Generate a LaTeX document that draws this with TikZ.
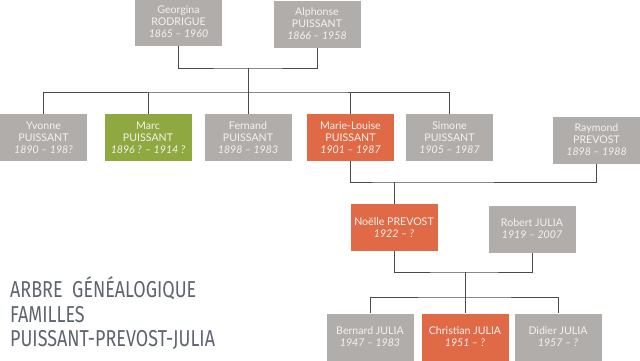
\documentclass[tikz,border=0pt]{standalone}
\usepackage{fontspec}
\setmainfont{Lato}
\newfontfamily\titlefont[FakeStretch=0.78]{Fira Sans}
\definecolor{boxgray}{HTML}{B1ADAA}
\definecolor{boxorange}{HTML}{E06A46}
\definecolor{boxgreen}{HTML}{8FA83F}
\definecolor{linegray}{HTML}{4A4A4A}
\definecolor{titlegray}{HTML}{5E6570}
\definecolor{txt}{HTML}{F4F2F0}
\tikzset{
  person/.style={draw=none, minimum width=87pt, minimum height=47pt, inner sep=1pt,
    align=center, text=txt, font=\fontsize{10.6}{12}\selectfont},
  pgray/.style={person, fill=boxgray},
  porange/.style={person, fill=boxorange},
  pgreen/.style={person, fill=boxgreen},
  link/.style={draw=linegray, line width=0.8pt},
  ttl/.style={anchor=base west, inner sep=0pt, text=titlegray, font=\titlefont\fontsize{23}{25}\selectfont}
}
\begin{document}
\begin{tikzpicture}[x=1pt,y=-1pt]
\useasboundingbox (0,0) rectangle (640,360);
\fill[white] (0,0) rectangle (640,360);
% generation 1
\node[pgray] (georgina) at (178.5,22) {Georgina\\RODRIGUE\\\textit{1865 – 1960}};
\node[pgray] (alphonse) at (317,24) {Alphonse\\PUISSANT\\\textit{1866 – 1958}};
% generation 2
\node[pgray] (yvonne) at (43.5,137.5) {Yvonne\\PUISSANT\\\textit{1890 – 198?}};
\node[pgreen] (marc) at (148,137.5) {Marc\\PUISSANT\\\textit{1896 ? – 1914 ?}};
\node[pgray] (fernand) at (248,137.5) {Fernand\\PUISSANT\\\textit{1898 – 1983}};
\node[porange] (marie) at (350.5,137.5) {Marie-Louise\\PUISSANT\\\textit{1901 – 1987}};
\node[pgray] (simone) at (449.5,137.5) {Simone\\PUISSANT\\\textit{1905 – 1987}};
\node[pgray] (raymond) at (596.5,140) {Raymond\\PREVOST\\\textit{1898 – 1988}};
% generation 3
\node[porange] (noelle) at (394,227.5) {Noëlle PREVOST\\\textit{1922 – ?}};
\node[pgray] (robert) at (532,229) {Robert JULIA\\\textit{1919 – 2007}};
% generation 4
\node[pgray] (bernard) at (370,337) {Bernard JULIA\\\textit{1947 – 1983}};
\node[porange] (christian) at (465,337) {Christian JULIA\\\textit{1951 – ?}};
\node[pgray] (didier) at (558,337) {Didier JULIA\\\textit{1957 – ?}};
% junctions
\coordinate (j1) at (248,68);
\coordinate (k1) at (248,92);
\coordinate (j2) at (394,182);
\coordinate (j3) at (465,272);
\coordinate (k3) at (465,297);
% connectors
\draw[link] (georgina.south) |- (j1) -| (alphonse.south);
\draw[link] (j1) -- (k1);
\draw[link] (yvonne.north) |- (k1) -| (simone.north);
\draw[link] (marc.north) -- (marc.north |- k1);
\draw[link] (fernand.north) -- (fernand.north |- k1);
\draw[link] (marie.north) -- (marie.north |- k1);
\draw[link] (marie.south) |- (j2) -| (raymond.south);
\draw[link] (j2) -- (noelle.north);
\draw[link] (noelle.south) |- (j3) -| (robert.south);
\draw[link] (j3) -- (christian.north);
\draw[link] (bernard.north) |- (k3) -| (didier.north);
% title
\node[ttl] (t1) at (10,297) {ARBRE\ \ GÉNÉALOGIQUE};
\node[ttl] (t2) at (10,322) {FAMILLES};
\node[ttl] (t3) at (10,346) {PUISSANT-PREVOST-JULIA};
\end{tikzpicture}
\end{document}
